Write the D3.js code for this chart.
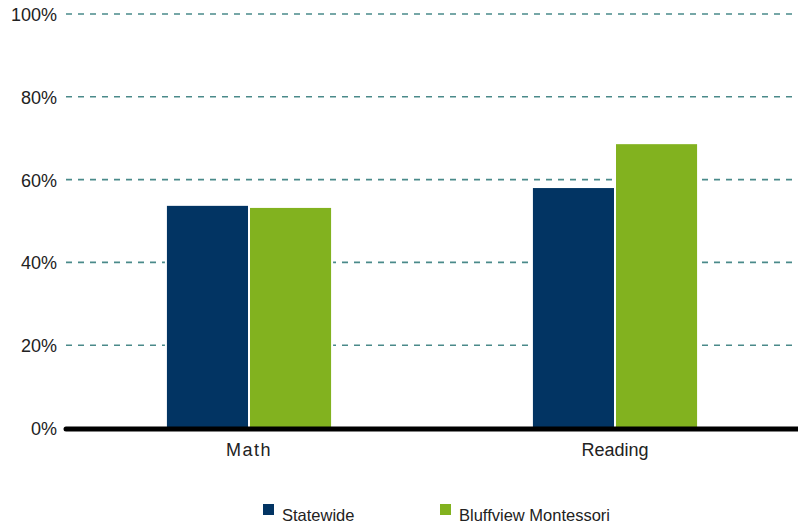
<!DOCTYPE html>
<html>
<head>
<meta charset="utf-8">
<script src="https://cdn.jsdelivr.net/npm/d3@7"></script>
<style>
  body { margin: 0; background: #fff; }
  text { font-family: "Liberation Sans", Arial, sans-serif; fill: #222; }
</style>
</head>
<body>
<div id="chart"></div>
<script>
// data
const subjects = ["Math", "Reading"];
const seriesNames = ["Statewide", "Bluffview Montessori"];
const statewide = [53.9, 58.2];
const bluffview = [53.4, 68.8];
const yTicks = [0, 20, 40, 60, 80, 100];

const colors = ["#023463", "#82b21f"];

const W = 798, H = 525;
const margin = { top: 14, right: 0, bottom: 97, left: 66 };
const width = W - margin.left - margin.right;
const height = H - margin.top - margin.bottom;

const svg = d3.select("#chart").append("svg")
    .attr("width", W).attr("height", H)
    .append("g")
    .attr("transform", `translate(${margin.left},${margin.top})`);

const x0 = d3.scaleBand().domain(subjects).range([0, width])
    .paddingInner(0.546).paddingOuter(0.273);
const x1 = d3.scaleBand().domain(seriesNames).range([0, x0.bandwidth()]);
const y = d3.scaleLinear().domain([0, 100]).range([height, 0]);

// gridlines
svg.append("g")
    .selectAll("line")
    .data(yTicks.filter(d => d > 0))
    .enter().append("line")
    .attr("x1", 0).attr("x2", width)
    .attr("y1", d => y(d)).attr("y2", d => y(d))
    .style("stroke", "#4a8a8a")
    .style("stroke-width", 1.6)
    .style("stroke-dasharray", "6,6");

// y labels
svg.append("g")
    .call(d3.axisLeft(y).tickValues(yTicks).tickFormat(d => d + "%").tickSize(0).tickPadding(9))
    .call(g => g.select(".domain").remove())
    .selectAll("text")
    .attr("dy", "0.36em")
    .style("font-size", "18px")
    .style("font-family", "'Liberation Sans', Arial, sans-serif")
    .style("fill", "#222");

// bars
const rows = subjects.map((s, i) => ({ subject: s, values: [statewide[i], bluffview[i]] }));
const groups = svg.selectAll(".grp")
    .data(rows)
    .enter().append("g")
    .attr("class", "grp")
    .attr("transform", d => `translate(${x0(d.subject)},0)`);

groups.selectAll("rect")
    .data(d => d.values.map((v, j) => ({ name: seriesNames[j], v, j })))
    .enter().append("rect")
    .attr("x", d => x1(d.name))
    .attr("y", d => y(d.v))
    .attr("width", x1.bandwidth())
    .attr("height", d => height - y(d.v))
    .style("fill", d => colors[d.j])
    .style("stroke", "#fff")
    .style("stroke-width", 2);

// baseline
svg.append("line")
    .attr("x1", 0).attr("x2", width)
    .attr("y1", y(0) + 1).attr("y2", y(0) + 1)
    .style("stroke", "#000")
    .style("stroke-width", 5)
    .style("stroke-linecap", "round");

// x labels
svg.append("g")
    .attr("transform", `translate(0,${height})`)
    .call(d3.axisBottom(x0).tickSize(0).tickPadding(15))
    .call(g => g.select(".domain").remove())
    .selectAll("text")
    .style("font-size", "18px")
    .style("font-family", "'Liberation Sans', Arial, sans-serif")
    .style("fill", "#222")
    .style("letter-spacing", d => d === "Math" ? "1.5px" : "0px");

// legend
const legendX = [263, 440];
const legend = d3.select("svg").selectAll(".legend")
    .data(seriesNames)
    .enter().append("g")
    .attr("class", "legend")
    .attr("transform", (d, i) => `translate(${legendX[i]},504)`);
legend.append("rect")
    .attr("width", 11).attr("height", 11)
    .style("fill", (d, i) => colors[i]);
legend.append("text")
    .attr("x", 19).attr("y", 17)
    .text(d => d)
    .style("font-size", "16.5px");
</script>
</body>
</html>
